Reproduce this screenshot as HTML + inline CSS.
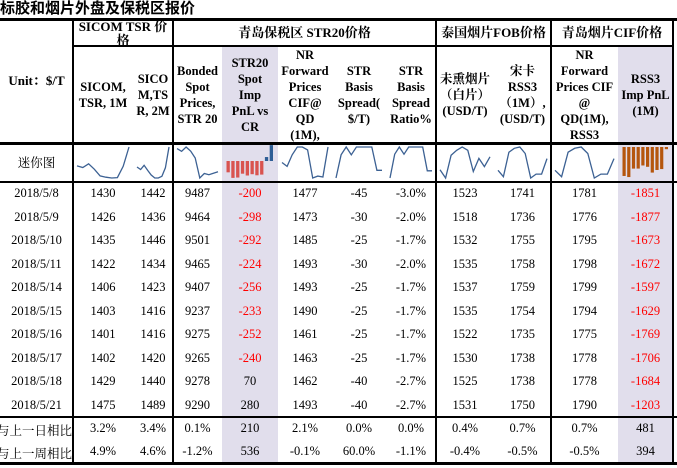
<!DOCTYPE html>
<html><head><meta charset="utf-8"><style>
body{margin:0;width:677px;height:468px;background:#fff;position:relative;overflow:hidden;font-family:"Liberation Serif","Noto Serif CJK SC",serif;color:#000}
.a{position:absolute}
.h{position:absolute;display:flex;align-items:center;justify-content:center;text-align:center;font-weight:bold;font-size:13px;line-height:16px}
.c{position:absolute;text-align:center;font-size:12.5px}
.ln{position:absolute;background:#000}
</style></head><body>
<div class="a" style="left:0;top:0;font-weight:bold;font-size:15px;font-family:'Liberation Sans','Noto Sans CJK SC',sans-serif;line-height:18px">标胶和烟片外盘及保税区报价</div>
<div class="a" style="left:222px;top:47px;width:56px;height:415px;background:#e1deec"></div>
<div class="a" style="left:618px;top:47px;width:55px;height:415px;background:#e1deec"></div>
<div id="hdr"></div>
<svg id="sp" class="a" style="left:0;top:0" width="677" height="468"></svg>
<div id="body"></div>
<script>
const dates=["2018/5/8","2018/5/9","2018/5/10","2018/5/11","2018/5/14","2018/5/15","2018/5/16","2018/5/17","2018/5/18","2018/5/21"];
const sicom1=[1430,1426,1435,1422,1406,1403,1401,1402,1429,1475];
const sicom2=[1442,1436,1446,1434,1423,1416,1416,1420,1440,1489];
const bonded=[9487,9464,9501,9465,9407,9237,9275,9265,9278,9290];
const strPnl=[-200,-298,-292,-224,-256,-233,-252,-240,70,280];
const nrFwd=[1477,1473,1485,1493,1493,1490,1461,1463,1462,1493];
const basis=[-45,-30,-25,-30,-25,-25,-25,-25,-40,-40];
const ratio=["-3.0%","-2.0%","-1.7%","-2.0%","-1.7%","-1.7%","-1.7%","-1.7%","-2.7%","-2.7%"];
const ratioV=[-3.0,-2.0,-1.7,-2.0,-1.7,-1.7,-1.7,-1.7,-2.7,-2.7];
const smoked=[1523,1518,1532,1535,1537,1535,1522,1530,1525,1531];
const rss3=[1741,1736,1755,1758,1759,1754,1735,1738,1738,1750];
const nrCif=[1781,1776,1795,1798,1799,1794,1775,1778,1778,1790];
const rssPnl=[-1851,-1877,-1673,-1672,-1597,-1629,-1769,-1706,-1684,-1203];
const dayChg=["3.2%","3.4%","0.1%","210","2.1%","0.0%","0.0%","0.4%","0.7%","0.7%","481"];
const weekChg=["4.9%","4.6%","-1.2%","536","-0.1%","60.0%","-1.1%","-0.4%","-0.5%","-0.5%","394"];
const cols=[[73,133],[133,173],[173,222],[222,278],[278,332],[332,386],[386,436],[436,494],[494,551],[551,618],[618,673]];
const series=[sicom1,sicom2,bonded,strPnl,nrFwd,basis,ratioV,smoked,rss3,nrCif,rssPnl];
const names=["sicom-1m","sicom-2m","bonded-spot","str20-pnl","nr-forward","str-basis","str-ratio","smoked-sheet","rss3-fob","nr-cif","rss3-pnl"];
const hdr=document.getElementById('hdr'),body=document.getElementById('body'),sp=document.getElementById('sp');
function div(cls,x,y,w,h,html,name,color){const d=document.createElement('div');d.className=cls;d.style.left=x+'px';d.style.top=y+'px';d.style.width=w+'px';d.style.height=h+'px';if(color)d.style.color=color;d.innerHTML=html;


return d;}
function line(x,y,w,h,name){const d=div('ln',x,y,w,h,'',name);body.appendChild(d);}
const groups=[[73,173,"SICOM TSR 价格"],[173,436,"青岛保税区 STR20价格"],[436,551,"泰国烟片FOB价格"],[551,673,"青岛烟片CIF价格"]];
groups.forEach((g,i)=>{const d=div('h',g[0],20,g[1]-g[0],26,g[2],'group-header-'+i);if(i==0){d.style.alignItems='flex-start';d.style.lineHeight='14px';d.style.overflow='hidden';}hdr.appendChild(d);});
const subs=["SICOM,<br>TSR, 1M","SICO<br>M,TS<br>R, 2M","Bonded<br>Spot<br>Prices,<br>STR 20","STR20<br>Spot<br>Imp<br>PnL vs<br>CR","NR<br>Forward<br>Prices<br>CIF@<br>QD<br>(1M),","STR<br>Basis<br>Spread(<br>$/T)","STR<br>Basis<br>Spread<br>Ratio%","未熏烟片<br>（白片）<br>(USD/T)","宋卡<br>RSS3<br>（1M）,<br>(USD/T)","NR<br>Forward<br>Prices CIF<br>@<br>QD(1M),<br>RSS3","RSS3<br>Imp PnL<br>(1M)"];
subs.forEach((s,i)=>{const d=div('h',cols[i][0],48,cols[i][1]-cols[i][0],94,s,'column-header-'+names[i]);d.style.overflow='hidden';d.style.fontSize='12.5px';hdr.appendChild(d);});
hdr.appendChild(div('h',0,20,73,122,"Unit：$/T",'unit-label'));
hdr.appendChild(div('c',0,153,73,20,"迷你图",'sparkline-label'));
const NS='http://www.w3.org/2000/svg';
series.forEach((s,i)=>{const [x0,x1]=cols[i];const L=x0+4,R=x1-4,T=147,B=178;
 if(i==3||i==10){const bw=(R-L)/s.length;
  let zero,scale,off=0;
  if(i==3){zero=T+14;scale=(B-zero)/300;}
  else{zero=T;off=1150;scale=(B-T)/750;}
  s.forEach((v,k)=>{const r=document.createElementNS(NS,'rect');const h=Math.max(0,Math.abs(v)-off)*scale;
   r.setAttribute('x',L+k*bw+0.5);r.setAttribute('width',bw-1.5);
   r.setAttribute('y',v<0?zero:zero-h);r.setAttribute('height',Math.max(h,1));
   r.setAttribute('fill',i==10?'#b5560e':(v<0?'#d9534f':'#2e5e95'));
   
   
   sp.appendChild(r);});
 }else{const mn=Math.min(...s),mx=Math.max(...s);
  const pts=s.map((v,k)=>(L+k*(R-L)/(s.length-1)).toFixed(1)+','+(B-(v-mn)/(mx-mn||1)*(B-T)).toFixed(1)).join(' ');
  const p=document.createElementNS(NS,'polyline');p.setAttribute('points',pts);p.setAttribute('fill','none');p.setAttribute('stroke','#3c6193');p.setAttribute('stroke-width','1.3');
  
  
  sp.appendChild(p);}
});
const rh=23.5,y0=182;
dates.forEach((d,r)=>{const y=y0+r*rh+4;
 body.appendChild(div('c',0,y,73,18,d,'date-'+r));
 const vals=[sicom1[r],sicom2[r],bonded[r],strPnl[r],nrFwd[r],basis[r],ratio[r],smoked[r],rss3[r],nrCif[r],rssPnl[r]];
 vals.forEach((v,i)=>{const red=(i==3||i==10)&&(typeof v==='number'&&v<0);
  body.appendChild(div('c',cols[i][0],y,cols[i][1]-cols[i][0],18,v,'cell-'+names[i]+'-'+r,red?'#ff0000':null));});
});
[["与上一日相比",dayChg,421],["与上一周相比",weekChg,444]].forEach((row,j)=>{
 const t=div('c',-4,row[2],77,18,row[0],'compare-label-'+j);t.style.whiteSpace='nowrap';t.style.overflow='hidden';t.style.fontFamily='"Noto Serif CJK SC",serif';body.appendChild(t);
 row[1].forEach((v,i)=>body.appendChild(div('c',cols[i][0],row[2],cols[i][1]-cols[i][0],18,v,'compare-'+j+'-'+names[i])));
});
line(0,18,677,3,'top-border');
line(73,45,600,2,'group-divider');
line(0,142,677,3,'header-bottom');
line(0,181,677,2,'sparkline-bottom');
line(0,416,677,2,'data-bottom');
line(0,462,677,3,'bottom-border');
[73,173,436,551].forEach((x,i)=>line(x-1,19,2,444,'vline-'+i));
line(672,19,2,444,'vline-right');
</script>
</body></html>
